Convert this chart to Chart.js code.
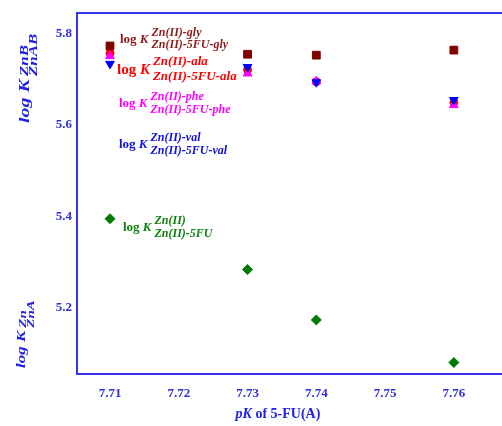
<!DOCTYPE html>
<html lang="en">
  <head>
    <meta charset="UTF-8" />
    <title>log K vs pK of 5-FU</title>
    <script src="https://cdn.jsdelivr.net/npm/chart.js"></script>
    <style>
      html, body { margin: 0; background: #fff; overflow: hidden; }
      #wrap { width: 502px; height: 426px; position: relative; }
    </style>
  </head>
  <body>
    <div id="wrap"><canvas id="chart"></canvas></div>
    <script>
      // pK of 5-FU(A) and the log K values
      const pK = [7.71, 7.73, 7.74, 7.76];
      const gly = [5.772, 5.754, 5.752, 5.763];
      const ala = [5.756, 5.72, 5.694, 5.649];
      const phe = [5.75, 5.712, 5.695, 5.643];
      const val = [5.733, 5.726, 5.693, 5.654];
      const zn = [5.395, 5.284, 5.174, 5.081];
      const xTicks = [7.71, 7.72, 7.73, 7.74, 7.75, 7.76];
      const yTicks = [5.2, 5.4, 5.6, 5.8];

      const axisBlue = "#3535f0";
      const serif = "'Liberation Serif', 'DejaVu Serif', serif";

      const pts = (ys) => pK.map((x, i) => ({ x: x, y: ys[i] }));

      // log K with a stacked superscript / subscript
      function logK(ctx, x, y, sup, sub, color, size, subSize, supDy, subDy, italicLog) {
        ctx.fillStyle = color;
        ctx.textBaseline = "middle";
        ctx.textAlign = "left";
        ctx.font = (italicLog ? "bold italic " : "bold ") + size + "px " + serif;
        ctx.fillText("log ", x, y);
        let w = ctx.measureText("log ").width;
        ctx.font = "bold italic " + size + "px " + serif;
        ctx.fillText("K", x + w, y);
        w += ctx.measureText("K").width + 3;
        ctx.font = "bold italic " + subSize + "px " + serif;
        ctx.fillText(sup, x + w, y + supDy);
        ctx.fillText(sub, x + w, y + subDy);
      }

      const labels = {
        id: "labels",
        afterDraw(chart) {
          const ctx = chart.ctx;
          const a = chart.chartArea;
          ctx.save();
          // top frame line
          ctx.strokeStyle = axisBlue;
          ctx.lineWidth = 2;
          ctx.beginPath();
          ctx.moveTo(a.left, a.top);
          ctx.lineTo(chart.width, a.top);
          ctx.stroke();

          logK(ctx, 120, 40, "Zn(II)-gly", "Zn(II)-5FU-gly", "#8b1a1a", 13, 12, -7, 5, false);
          logK(ctx, 117, 70, "Zn(II)-ala", "Zn(II)-5FU-ala", "#ff0000", 15, 13, -8, 7, false);
          logK(ctx, 119, 104, "Zn(II)-phe", "Zn(II)-5FU-phe", "#ff00ff", 13, 12, -7, 6, false);
          logK(ctx, 119, 145, "Zn(II)-val", "Zn(II)-5FU-val", "#1010e0", 13, 12, -7, 6, false);
          logK(ctx, 123, 228, "Zn(II)", "Zn(II)-5FU", "#108010", 13, 12, -7, 6, false);

          // rotated y titles (text is narrow, so squeeze it across)
          ctx.save();
          ctx.translate(25, 123);
          ctx.rotate(-Math.PI / 2);
          ctx.scale(1, 0.75);
          logK(ctx, 0, 0, "ZnB", "ZnAB", "#2020e8", 20, 17, -1, 12, true);
          ctx.restore();
          ctx.save();
          ctx.translate(22, 368);
          ctx.rotate(-Math.PI / 2);
          ctx.scale(1, 0.75);
          logK(ctx, 0, 0, "Zn", "ZnA", "#2020e8", 17, 15, 1, 12, true);
          ctx.restore();

          // x title
          ctx.fillStyle = "#2020e8";
          ctx.textBaseline = "middle";
          const t1 = "pK";
          const t2 = " of 5-FU(A)";
          ctx.font = "bold 14px " + serif;
          const w2 = ctx.measureText(t2).width;
          ctx.font = "bold italic 14px " + serif;
          const w1 = ctx.measureText(t1).width;
          const x0 = 278 - (w1 + w2) / 2;
          ctx.fillText(t1, x0, 414);
          ctx.font = "bold 14px " + serif;
          ctx.fillText(t2, x0 + w1, 414);
          ctx.restore();
        },
      };

      new Chart(document.getElementById("chart"), {
        type: "scatter",
        data: {
          datasets: [
            {
              label: "gly",
              data: pts(gly),
              order: 1,
              pointStyle: "rect",
              pointRadius: 5.5,
              backgroundColor: "#800000",
              borderColor: "#800000",
              borderWidth: 1,
            },
            {
              label: "ala",
              data: pts(ala),
              order: 5,
              pointStyle: "circle",
              pointRadius: 4,
              backgroundColor: "#ff0000",
              borderColor: "#ff0000",
              borderWidth: 1,
            },
            {
              label: "phe",
              data: pts(phe),
              order: 4,
              pointStyle: "triangle",
              pointRadius: 5,
              backgroundColor: "#ff00ff",
              borderColor: "#ff00ff",
              borderWidth: 1,
            },
            {
              label: "val",
              data: pts(val),
              order: 3,
              pointStyle: "triangle",
              rotation: 180,
              pointRadius: 5,
              backgroundColor: "#0000ff",
              borderColor: "#0000ff",
              borderWidth: 1,
            },
            {
              label: "Zn",
              data: pts(zn),
              order: 1,
              pointStyle: "rectRot",
              pointRadius: 5,
              backgroundColor: "#007a00",
              borderColor: "#007a00",
              borderWidth: 1,
            },
          ],
        },
        options: {
          responsive: true,
          maintainAspectRatio: false,
          animation: false,
          layout: { autoPadding: false, padding: { top: 13, right: 0, left: 0, bottom: 0 } },
          plugins: { legend: { display: false }, tooltip: { enabled: false } },
          scales: {
            x: {
              type: "linear",
              min: 7.7052,
              max: 7.767,
              afterBuildTicks: (s) => { s.ticks = xTicks.map((v) => ({ value: v })); },
              afterFit: (s) => { s.height = 52; s.paddingLeft = 0; s.paddingRight = 0; },
              grid: { display: false, drawTicks: false },
              border: { display: true, color: axisBlue, width: 2 },
              ticks: {
                padding: 12,
                color: "#3030d8",
                font: { family: serif, size: 13, weight: "bold" },
                callback: (v) => v.toFixed(2),
              },
            },
            y: {
              min: 5.056,
              max: 5.844,
              afterBuildTicks: (s) => { s.ticks = yTicks.map((v) => ({ value: v })); },
              afterFit: (s) => { s.width = 77; s.paddingTop = 0; s.paddingBottom = 0; },
              grid: { display: false, drawTicks: false },
              border: { display: true, color: axisBlue, width: 2 },
              ticks: {
                padding: 5,
                color: "#3030d8",
                font: { family: serif, size: 13, weight: "bold" },
                callback: (v) => v.toFixed(1),
              },
            },
          },
        },
        plugins: [labels],
      });
    </script>
  </body>
</html>
